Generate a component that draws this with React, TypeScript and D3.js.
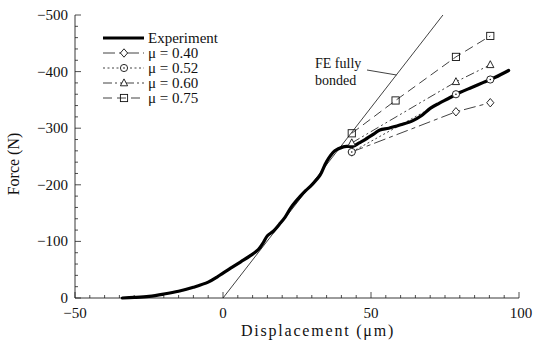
import React from "react";
import * as d3 from "d3";

// Measured force–displacement response (displacement in µm, force in N)
const expDisp = [-34, -30, -25, -20, -15, -10, -5, -2, 0, 3, 6, 9, 12, 13.5, 15, 17, 19, 21, 23, 26, 28, 30, 32.8, 35, 37.8, 40.6, 42, 44, 46, 48, 51, 53, 56, 60, 64, 67, 70, 73, 76, 80, 84, 88, 92, 96.5];
const expForce = [0, -1, -3, -7, -12, -19, -28, -37, -44, -54, -64, -74, -86, -97, -110, -118, -130, -143, -160, -179, -190, -200, -217, -241, -260, -267, -268, -268, -274, -280, -290, -297, -300, -306, -313, -322, -335, -344, -352, -363, -372, -381, -390, -402];

// Fully bonded finite-element prediction (straight line)
const feDisp = [0, 74.3];
const feForce = [0, -500];

// FE predictions with friction coefficient µ
const muLabels = ["μ = 0.40", "μ = 0.52", "μ = 0.60", "μ = 0.75"];
const muMarkers = ["diamond", "circle", "triangle", "square"];
const muDash = ["12,4,4,4", "2,2.5", "9,3,2,3,2,3", "9,5"];
const mu040Disp = [43.5, 78.7, 90.3];
const mu040Force = [-258, -329, -345];
const mu052Disp = [43.5, 78.7, 90.3];
const mu052Force = [-258, -360, -386];
const mu060Disp = [43.5, 78.7, 90.3];
const mu060Force = [-274, -382, -412];
const mu075Disp = [43.5, 58.3, 78.7, 90.3];
const mu075Force = [-291, -349, -426, -463];
const muDisp = [mu040Disp, mu052Disp, mu060Disp, mu075Disp];
const muForce = [mu040Force, mu052Force, mu060Force, mu075Force];

const xTicks = [-50, 0, 50, 100];
const yTicks = [0, -100, -200, -300, -400, -500];

const FONT = "'Liberation Serif', 'DejaVu Serif', serif";

function Marker({ kind, cx, cy }: { kind: string; cx: number; cy: number }) {
  const s = 3.6;
  const common = { fill: "white", stroke: "#111", strokeWidth: 0.9 };
  if (kind === "diamond")
    return <path d={`M${cx},${cy - s - 0.6}L${cx + s},${cy}L${cx},${cy + s + 0.6}L${cx - s},${cy}Z`} {...common} />;
  if (kind === "circle")
    return (
      <g>
        <circle cx={cx} cy={cy} r={s} {...common} />
        <circle cx={cx} cy={cy} r={0.8} fill="#111" />
      </g>
    );
  if (kind === "triangle")
    return <path d={`M${cx},${cy - s - 0.5}L${cx + s},${cy + s - 0.8}L${cx - s},${cy + s - 0.8}Z`} {...common} />;
  return <rect x={cx - s} y={cy - s} width={2 * s} height={2 * s} fill="none" stroke="#111" strokeWidth={0.9} />;
}

export default function App() {
  const x = d3.scaleLinear().domain([-50, 100]).range([75, 519]);
  const y = d3.scaleLinear().domain([0, -500]).range([298, 15]);

  const line = d3
    .line<[number, number]>()
    .x((d) => x(d[0]))
    .y((d) => y(d[1]));
  const smooth = d3
    .line<[number, number]>()
    .x((d) => x(d[0]))
    .y((d) => y(d[1]))
    .curve(d3.curveCatmullRom);

  const expPts = expDisp.map((d, i) => [d, expForce[i]] as [number, number]);
  const fePts = feDisp.map((d, i) => [d, feForce[i]] as [number, number]);

  const xMinor = d3.range(-50, 100.01, 5);
  const yMinor = d3.range(0, -500.01, -20);

  const legendY = [53, 68, 83, 98];

  return (
    <svg width={533} height={345} style={{ position: "absolute", left: 0, top: 0, background: "white" }} fontFamily={FONT}>
      {/* axes */}
      <line x1={x(-50)} x2={x(100)} y1={y(0)} y2={y(0)} stroke="#222" strokeWidth={0.9} />
      <line x1={x(-50)} x2={x(-50)} y1={y(0)} y2={y(-500)} stroke="#222" strokeWidth={0.9} />
      {xMinor.map((t) => (
        <line key={"xm" + t} x1={x(t)} x2={x(t)} y1={y(0)} y2={y(0) - (t % 50 === 0 ? 6 : 3)} stroke="#222" strokeWidth={0.8} />
      ))}
      {yMinor.map((t) => (
        <line key={"ym" + t} x1={x(-50)} x2={x(-50) + (t % 100 === 0 ? 6 : 3)} y1={y(t)} y2={y(t)} stroke="#222" strokeWidth={0.8} />
      ))}
      {xTicks.map((t) => (
        <text key={"xt" + t} x={x(t) + (t === 100 ? 2 : 0)} y={y(0) + 20} fontSize={15} textAnchor="middle" fill="#111">
          {t < 0 ? "−" + Math.abs(t) : t}
        </text>
      ))}
      {yTicks.map((t) => (
        <text key={"yt" + t} x={x(-50) - 7} y={y(t) + 5} fontSize={15} textAnchor="end" fill="#111">
          {t < 0 ? "−" + Math.abs(t) : t}
        </text>
      ))}
      <text x={318} y={336} fontSize={16} letterSpacing={1.8} textAnchor="middle" fill="#111">
        Displacement (μm)
      </text>
      <text transform="translate(19,164) rotate(-90)" fontSize={16} textAnchor="middle" fill="#111">
        Force (N)
      </text>

      {/* fully bonded FE line */}
      <path d={line(fePts) || ""} fill="none" stroke="#111" strokeWidth={0.8} />
      <text x={315} y={68} fontSize={14} fill="#111">FE fully</text>
      <text x={315} y={85} fontSize={14} fill="#111">bonded</text>
      <line x1={367} y1={70} x2={x(58.6)} y2={y(-394)} stroke="#111" strokeWidth={0.8} />

      {/* friction series */}
      {muDisp.map((ds, k) => {
        const pts = ds.map((d, i) => [d, muForce[k][i]] as [number, number]);
        return (
          <g key={"mu" + k}>
            <path d={line(pts) || ""} fill="none" stroke="#111" strokeWidth={0.8} strokeDasharray={muDash[k]} />
          </g>
        );
      })}

      {/* experiment */}
      <path d={smooth(expPts) || ""} fill="none" stroke="#000" strokeWidth={3.2} strokeLinejoin="round" strokeLinecap="round" />

      {muDisp.map((ds, k) => (
        <g key={"mk" + k}>
          {ds.map((d, i) => (
            <Marker key={i} kind={muMarkers[k]} cx={x(d)} cy={y(muForce[k][i])} />
          ))}
        </g>
      ))}

      {/* legend */}
      <line x1={103} x2={144} y1={38} y2={38} stroke="#000" strokeWidth={3} />
      <text x={148} y={43} fontSize={15} fill="#111">Experiment</text>
      {muLabels.map((lab, k) => (
        <g key={"lg" + k}>
          <line x1={103} x2={144} y1={legendY[k]} y2={legendY[k]} stroke="#111" strokeWidth={0.8} strokeDasharray={muDash[k]} />
          <Marker kind={muMarkers[k]} cx={124} cy={legendY[k]} />
          <text x={148} y={legendY[k] + 5} fontSize={15} fill="#111">{lab}</text>
        </g>
      ))}
    </svg>
  );
}
